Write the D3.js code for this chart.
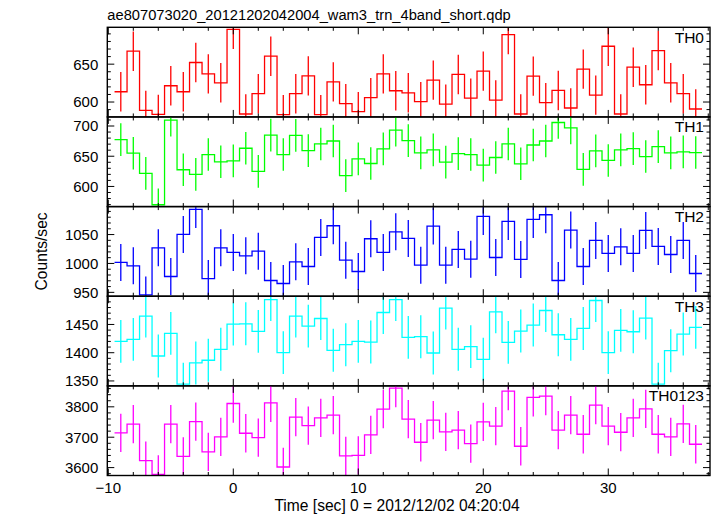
<!DOCTYPE html>
<html>
<head>
<meta charset="utf-8">
<script src="https://cdn.jsdelivr.net/npm/d3@7"></script>
<style>
  body { margin: 0; background: #fff; }
  svg { display: block; }
  text { font-family: "Liberation Sans", Arial, Helvetica, sans-serif; fill: #000; }
</style>
</head>
<body>
<svg id="chart" width="717" height="516"></svg>
<script>
// ---- data ----
const times = [-9,-8,-7,-6,-5,-4,-3,-2,-1,0,1,2,3,4,5,6,7,8,9,10,11,12,13,14,15,16,17,18,19,20,21,22,23,24,25,26,27,28,29,30,31,32,33,34,35,36,37];
const th0 = [613.6,667.1,589.0,583.7,621.5,613.6,652.2,637.2,625.4,696.0,584.2,611.0,660.5,583.3,611.0,634.6,583.3,626.7,597.8,587.2,605.7,637.2,614.9,612.2,600.4,628.9,597.3,636.4,605.2,640.8,602.6,689.0,584.2,634.2,599.1,615.3,592.1,643.4,609.2,673.7,584.2,646.0,622.8,668.0,625.4,611.0,590.8];
const th1 = [677.4,655.0,621.6,569.7,709.6,627.6,620.0,652.8,640.8,642.4,663.2,624.9,685.0,652.8,684.5,659.3,670.3,675.2,617.8,645.7,638.0,662.1,693.2,675.7,655.5,660.4,640.2,654.4,652.8,635.3,647.9,670.3,637.5,668.6,675.2,705.8,697.0,628.2,658.8,643.0,660.4,662.6,649.5,665.9,655.5,657.1,656.1];
const th2 = [1001.7,995.9,945.6,1027.1,977.4,1050.2,1093.5,973.9,1027.1,1019.0,1013.2,1021.3,970.5,965.3,1002.8,994.7,1045.0,1065.2,1005.7,986.1,1042.7,1019.0,1054.8,1043.3,997.0,1064.6,997.0,1024.2,1007.4,1081.4,1010.3,1072.7,1006.9,1076.2,1084.3,970.5,1057.7,994.7,1039.8,1017.3,1028.8,1017.3,1057.1,1029.4,1015.5,1039.8,982.6];
const th3 = [1420.1,1423.6,1464.7,1394.2,1434.2,1344.2,1381.9,1386.6,1406.0,1450.6,1451.2,1437.7,1494.1,1400.1,1464.7,1447.1,1460.6,1404.2,1414.2,1420.1,1418.9,1471.2,1494.1,1427.1,1428.3,1399.5,1478.9,1406.0,1410.7,1388.3,1472.4,1418.3,1438.3,1448.9,1474.7,1431.8,1423.6,1443.0,1492.4,1400.1,1439.5,1437.1,1461.2,1344.2,1403.6,1433.0,1444.8];
const th0123 = [3714.2,3742.8,3622.9,3577.8,3742.8,3637.2,3751.6,3651.5,3701.0,3811.0,3713.1,3698.8,3813.2,3602.0,3765.9,3738.4,3763.7,3772.5,3638.3,3640.5,3707.6,3792.3,3861.6,3759.3,3683.4,3756.0,3717.5,3723.0,3679.0,3750.5,3736.2,3851.7,3670.2,3830.8,3835.2,3723.0,3772.5,3709.8,3805.5,3736.2,3716.4,3763.7,3793.4,3709.8,3701.0,3743.9,3676.8];
const errHalf = [26, 27, 32, 38, 63];
const panelNames = ["TH0", "TH1", "TH2", "TH3", "TH0123"];
const panelColors = ["#ff0000", "#00ff00", "#0000ff", "#00ffff", "#ff00ff"];
const panelDomains = [[580.3, 698.7], [566.7, 715], [943.3, 1098.4], [1341.3, 1500], [3574, 3869]];
const majorTicks = [[600, 650], [600, 650, 700], [950, 1000, 1050], [1350, 1400, 1450], [3600, 3700, 3800]];
const minorStep = [10, 10, 10, 10, 20];
const xMajorTicks = [-10, 0, 10, 20, 30];
const titleText = "ae807073020_20121202042004_wam3_trn_4band_short.qdp";
const xLabel = "Time [sec] 0 = 2012/12/02 04:20:04";
const yLabel = "Counts/sec";
const series = [th0, th1, th2, th3, th0123];

// ---- layout ----
const svg = d3.select("#chart");
const pLeft = 107.3, pRight = 710, pTop = 27.3, pBottom = 475.5;
const ph = (pBottom - pTop) / 5;
const x = d3.scaleLinear().domain([-10.08, 38.14]).range([pLeft, pRight]);
const fontSize = 15;

svg.append("text").attr("x", pLeft).attr("y", 20)
  .style("font-size", "14.7px").text(titleText);

const xMinor = d3.range(-10, 39, 2);

series.forEach((vals, p) => {
  const y0 = pTop + p * ph, y1 = y0 + ph;
  const y = d3.scaleLinear().domain(panelDomains[p]).range([y1, y0]);
  const g = svg.append("g");
  const clipId = "clip" + p;
  svg.append("clipPath").attr("id", clipId).append("rect")
    .attr("x", pLeft).attr("y", y0).attr("width", pRight - pLeft).attr("height", ph);
  const data = times.map((t, i) => ({t, v: vals[i], e: errHalf[p]}));
  const pts = [];
  data.forEach(d => { pts.push([d.t - 0.5, d.v]); pts.push([d.t + 0.5, d.v]); });
  const line = d3.line().x(d => x(d[0])).y(d => y(d[1]));
  const cg = g.append("g").attr("clip-path", `url(#${clipId})`);
  cg.append("path").attr("d", line(pts)).attr("fill", "none")
    .attr("stroke", panelColors[p]).attr("stroke-width", 1.3);
  cg.selectAll("line.err").data(data).join("line").attr("class", "err")
    .attr("x1", d => x(d.t)).attr("x2", d => x(d.t))
    .attr("y1", d => y(d.v - d.e)).attr("y2", d => y(d.v + d.e))
    .attr("stroke", panelColors[p]).attr("stroke-width", 1.3);

  const [dmin, dmax] = panelDomains[p];
  const minors = d3.range(Math.ceil(dmin / minorStep[p]) * minorStep[p], dmax, minorStep[p]);
  const tg = g.append("g").attr("stroke", "#000").attr("stroke-width", 1);
  minors.forEach(v => {
    const isMajor = majorTicks[p].includes(v);
    const len = isMajor ? 7 : 3.5;
    tg.append("line").attr("x1", pLeft).attr("x2", pLeft + len).attr("y1", y(v)).attr("y2", y(v));
    tg.append("line").attr("x1", pRight).attr("x2", pRight - len).attr("y1", y(v)).attr("y2", y(v));
  });
  majorTicks[p].forEach(v => {
    g.append("text").attr("x", pLeft - 9).attr("y", y(v)).attr("dy", "0.36em")
      .attr("text-anchor", "end").style("font-size", fontSize + "px").text(v);
  });
  xMinor.forEach(t => {
    const isMajor = xMajorTicks.includes(t);
    const len = isMajor ? 7 : 3.5;
    tg.append("line").attr("x1", x(t)).attr("x2", x(t)).attr("y1", y0).attr("y2", y0 + len);
    tg.append("line").attr("x1", x(t)).attr("x2", x(t)).attr("y1", y1).attr("y2", y1 - len);
  });
  g.append("rect").attr("x", pLeft).attr("y", y0).attr("width", pRight - pLeft).attr("height", ph)
    .attr("fill", "none").attr("stroke", "#000").attr("stroke-width", 1.4);
  g.append("text").attr("x", 704).attr("y", y0 + 15.4).attr("text-anchor", "end")
    .style("font-size", "15.5px").text(panelNames[p]);
});

xMajorTicks.forEach(t => {
  svg.append("text").attr("x", x(t)).attr("y", 493).attr("text-anchor", "middle")
    .style("font-size", fontSize + "px").text(t < 0 ? "\u2212" + Math.abs(t) : t);
});
svg.append("text").attr("x", 397).attr("y", 511).attr("text-anchor", "middle")
  .style("font-size", "15.6px").text(xLabel);
svg.append("text").attr("transform", `translate(47,${(pTop + pBottom) / 2}) rotate(-90)`)
  .attr("text-anchor", "middle").style("font-size", "15.6px").text(yLabel);
</script>
</body>
</html>
